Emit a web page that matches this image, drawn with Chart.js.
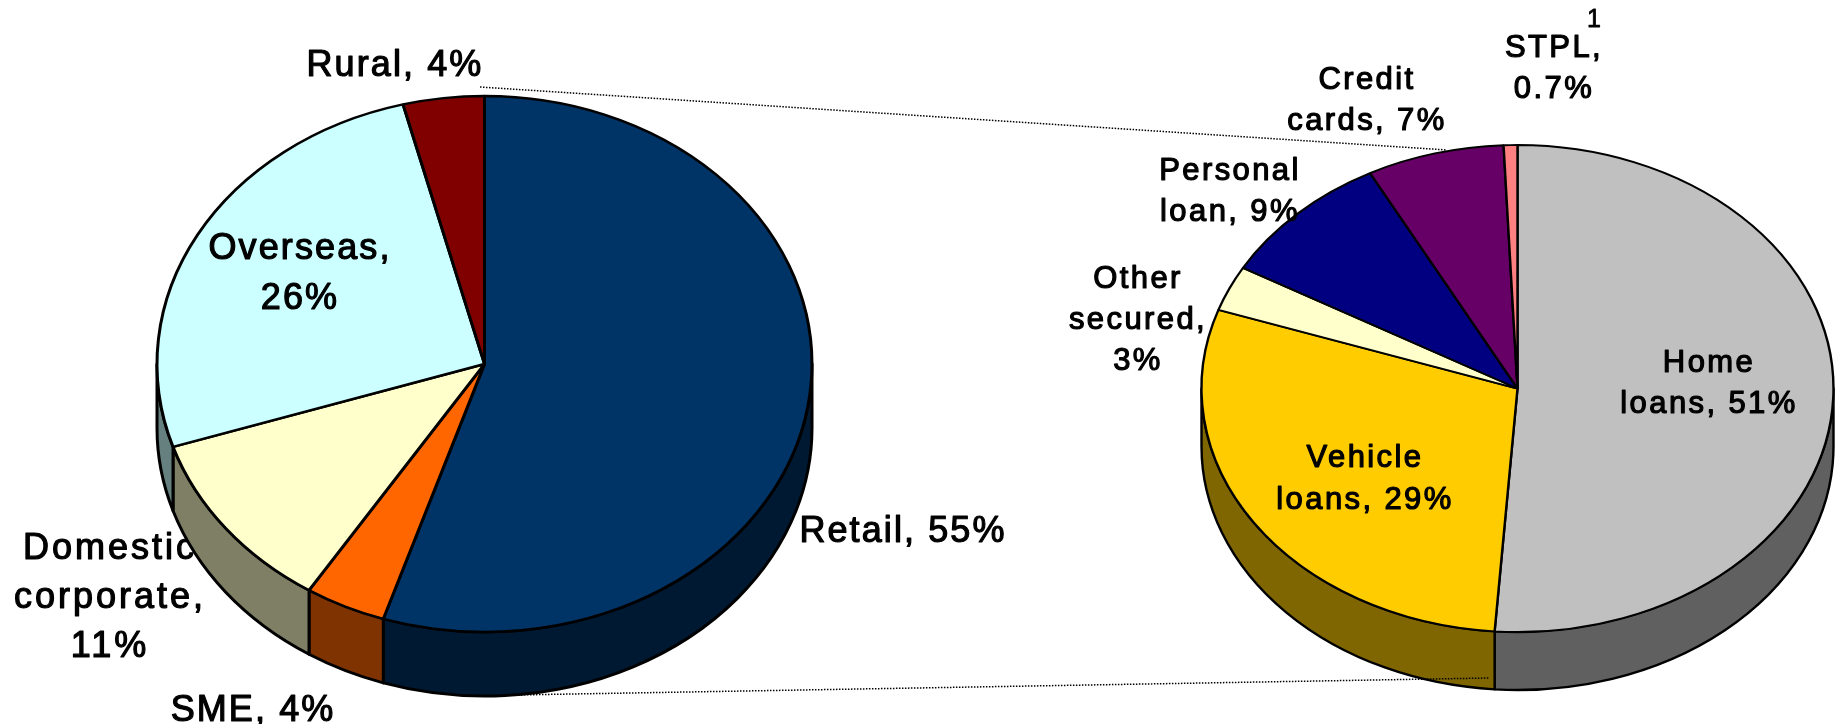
<!DOCTYPE html>
<html>
<head>
<meta charset="utf-8">
<title>Loan mix</title>
<style>
  html, body { margin: 0; padding: 0; background: #fff; }
  #page { position: relative; width: 1835px; height: 724px; overflow: hidden; }
  canvas { position: absolute; left: 0; top: 0; }
</style>
<script src="https://cdn.jsdelivr.net/npm/chart.js@4"></script>
</head>
<body>
<div id="page">
  <canvas id="bookChart" width="1835" height="724"></canvas>
  <canvas id="retailChart" width="1835" height="724"></canvas>
</div>
<script>
var bookCategories = ['Retail', 'SME', 'Domestic corporate', 'Overseas', 'Rural'];
var bookValues = [55, 4, 11, 26, 4];
var bookColors = ['#003366', '#FF6600', '#FFFFCC', '#CCFFFF', '#800000'];

var retailCategories = ['Home loans', 'Vehicle loans', 'Other secured', 'Personal loan', 'Credit cards', 'STPL'];
var retailValues = [51, 29, 3, 9, 7, 0.7];
var retailColors = ['#C0C0C0', '#FFCC00', '#FFFFCC', '#000080', '#660066', '#FF8080'];

// nudge moves single lines sideways, track overrides the letter spacing
var bookLabels = [
  { lines: ['Rural, 4%'], x: 395, y: 66, gap: 0 },
  { lines: ['Overseas,', '26%'], x: 300, y: 249, gap: 50 },
  { lines: ['Retail, 55%'], x: 903, y: 532, gap: 0 },
  { lines: ['Domestic', 'corporate,', '11%'], x: 110, y: 549, gap: 49, track: 3, under: true },
  { lines: ['SME, 4%'], x: 253, y: 711, gap: 0 }
];
var retailLabels = [
  { lines: ['Credit', 'cards, 7%'], x: 1367, y: 80, gap: 41 },
  { lines: ['STPL,', '0.7%'], x: 1554, y: 48, gap: 41 },
  { lines: ['Personal', 'loan, 9%'], x: 1230, y: 171, gap: 41 },
  { lines: ['Other', 'secured,', '3%'], x: 1138, y: 279, gap: 41 },
  { lines: ['Home', 'loans, 51%'], x: 1709, y: 363, gap: 41 },
  { lines: ['Vehicle', 'loans, 29%'], x: 1365, y: 458, gap: 42 }
];

// halves each channel to get the colour of the pie's side wall
function darker(hex) {
  var n = parseInt(hex.slice(1), 16);
  var r = (n >> 16) >> 1, g = ((n >> 8) & 255) >> 1, b = (n & 255) >> 1;
  return 'rgb(' + r + ',' + g + ',' + b + ')';
}

function drawLabels(ctx, labels, font, spacing, under) {
  ctx.save();
  ctx.font = font;
  ctx.textAlign = 'center';
  ctx.textBaseline = 'middle';
  ctx.fillStyle = '#000';
  ctx.strokeStyle = '#000';
  ctx.lineWidth = 1.2;
  ctx.lineJoin = 'round';
  for (var i = 0; i < labels.length; i++) {
    if (!!labels[i].under !== under) continue;
    ctx.letterSpacing = (labels[i].track || spacing) + 'px';
    for (var j = 0; j < labels[i].lines.length; j++) {
      var x = labels[i].x + (labels[i].nudge ? labels[i].nudge[j] : 0);
      var y = labels[i].y + j * labels[i].gap;
      ctx.fillText(labels[i].lines[j], x, y);
      ctx.strokeText(labels[i].lines[j], x, y);
    }
  }
  ctx.restore();
}

// squashes the round pie into an ellipse and adds the side wall below it
var tiltPlugin = {
  id: 'tilt',
  beforeDatasetsDraw: function(chart, args, opts) {
    var ctx = chart.ctx;
    var arcs = chart.getDatasetMeta(0).data;
    var colors = chart.data.datasets[0].backgroundColor;
    drawLabels(ctx, opts.labels, opts.font, opts.spacing, true);
    for (var i = 0; i < arcs.length; i++) {
      var p = arcs[i].getProps(['x', 'y', 'startAngle', 'endAngle', 'outerRadius']);
      var start = Math.max(p.startAngle, 0);
      var end = Math.min(p.endAngle, Math.PI);
      if (end <= start) continue;
      var rx = p.outerRadius, ry = p.outerRadius * opts.squash;
      ctx.beginPath();
      ctx.ellipse(p.x, p.y, rx, ry, 0, start, end);
      ctx.ellipse(p.x, p.y + opts.depth, rx, ry, 0, end, start, true);
      ctx.closePath();
      ctx.fillStyle = darker(colors[i]);
      ctx.fill();
      ctx.lineWidth = opts.line;
      ctx.strokeStyle = '#000';
      ctx.lineJoin = 'round';
      ctx.stroke();
    }
    var c = arcs[0].getProps(['x', 'y']);
    ctx.save();
    ctx.translate(c.x, c.y);
    ctx.scale(1, opts.squash);
    ctx.translate(-c.x, -c.y);
  },
  afterDatasetsDraw: function(chart, args, opts) {
    chart.ctx.restore();
    drawLabels(chart.ctx, opts.labels, opts.font, opts.spacing, false);
  }
};

// dotted lines tying the retail slice to the breakdown pie, plus the footnote mark
var extrasPlugin = {
  id: 'extras',
  afterDraw: function(chart) {
    var ctx = chart.ctx;
    ctx.save();
    ctx.strokeStyle = '#000';
    ctx.lineWidth = 1.5;
    ctx.setLineDash([1.5, 1.5]);
    ctx.beginPath();
    ctx.moveTo(480, 87);
    ctx.lineTo(1447, 150);
    ctx.moveTo(515, 695);
    ctx.lineTo(1489, 678);
    ctx.stroke();
    ctx.restore();
    ctx.save();
    ctx.font = '25px "Liberation Sans"';
    ctx.textAlign = 'center';
    ctx.textBaseline = 'middle';
    ctx.fillStyle = '#000';
    ctx.strokeStyle = '#000';
    ctx.lineWidth = 0.8;
    ctx.fillText('1', 1594, 20);
    ctx.strokeText('1', 1594, 20);
    ctx.restore();
  }
};

function makePie(id, categories, values, colors, cx, cy, radius, line, tilt) {
  var half = radius + line / 2;
  return new Chart(document.getElementById(id), {
    type: 'pie',
    data: {
      labels: categories,
      datasets: [{
        data: values,
        backgroundColor: colors,
        borderColor: '#000',
        borderWidth: line,
        clip: false
      }]
    },
    options: {
      responsive: false,
      animation: false,
      events: [],
      layout: {
        padding: { left: cx - half, right: 1835 - cx - half, top: cy - half, bottom: 724 - cy - half }
      },
      plugins: {
        legend: { display: false },
        tooltip: { enabled: false },
        tilt: tilt
      }
    },
    plugins: id === 'retailChart' ? [tiltPlugin, extrasPlugin] : [tiltPlugin]
  });
}

makePie('bookChart', bookCategories, bookValues, bookColors, 484.5, 364, 327.5, 3, {
  squash: 268 / 327.5,
  depth: 64,
  line: 3,
  labels: bookLabels,
  font: '36px "Liberation Sans"',
  spacing: 2.1
});
makePie('retailChart', retailCategories, retailValues, retailColors, 1517.5, 388.5, 316, 2.4, {
  squash: 243.5 / 316,
  depth: 58,
  line: 2.4,
  labels: retailLabels,
  font: '31px "Liberation Sans"',
  spacing: 2.4
});
</script>
</body>
</html>
